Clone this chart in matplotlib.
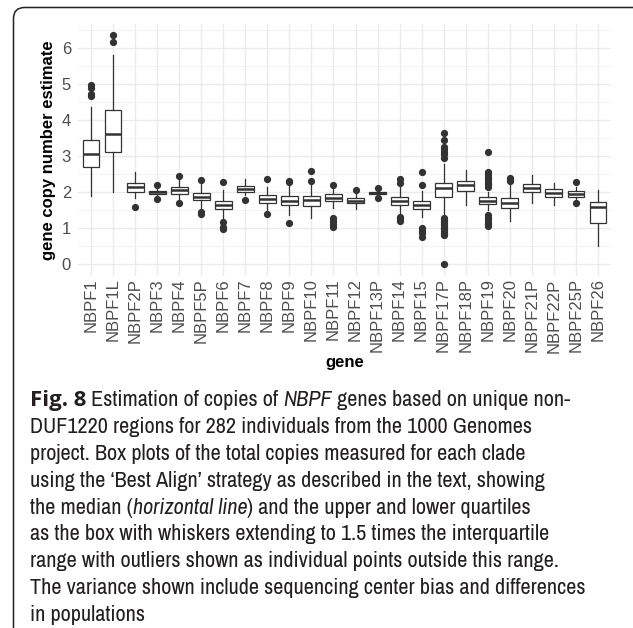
import numpy as np
import matplotlib
matplotlib.use("Agg")
import matplotlib.pyplot as plt
from matplotlib import font_manager
from matplotlib.patches import FancyBboxPatch

W, H = 633, 628

genes = ["NBPF1", "NBPF1L", "NBPF2P", "NBPF3", "NBPF4", "NBPF5P", "NBPF6", "NBPF7",
         "NBPF8", "NBPF9", "NBPF10", "NBPF11", "NBPF12", "NBPF13P", "NBPF14", "NBPF15",
         "NBPF17P", "NBPF18P", "NBPF19", "NBPF20", "NBPF21P", "NBPF22P", "NBPF25P", "NBPF26"]

q1 = [2.70, 3.12, 2.01, 1.95, 1.95, 1.77, 1.52, 2.00, 1.70, 1.63, 1.61, 1.75,
      1.68, 1.93, 1.64, 1.52, 1.85, 2.04, 1.67, 1.55, 1.99, 1.87, 1.87, 1.15]
medians = [3.04, 3.62, 2.13, 2.00, 2.06, 1.87, 1.65, 2.08, 1.81, 1.76, 1.78, 1.84,
           1.76, 1.96, 1.76, 1.63, 2.12, 2.18, 1.76, 1.69, 2.10, 1.98, 1.95, 1.58]
q3 = [3.43, 4.26, 2.24, 2.03, 2.15, 1.98, 1.76, 2.17, 1.91, 1.89, 1.89, 1.94,
      1.82, 1.99, 1.87, 1.76, 2.25, 2.31, 1.85, 1.83, 2.21, 2.07, 2.02, 1.72]
whislo = [1.90, 1.99, 1.83, 1.88, 1.80, 1.52, 1.27, 1.92, 1.50, 1.36, 1.27, 1.55,
          1.54, 1.88, 1.36, 1.30, 1.31, 1.64, 1.50, 1.19, 1.70, 1.64, 1.76, 0.49]
whishi = [4.35, 5.81, 2.54, 2.10, 2.33, 2.22, 2.06, 2.35, 2.15, 2.19, 2.19, 2.10,
          1.96, 2.03, 2.17, 2.04, 2.78, 2.61, 2.01, 2.24, 2.47, 2.26, 2.15, 2.06]
outliers = [
    [4.65, 4.72, 4.88, 4.97],
    [6.16, 6.34],
    [1.59],
    [2.19, 1.80],
    [2.43, 1.68],
    [2.32, 1.44, 1.38],
    [2.27, 1.17, 1.04, 0.96],
    [1.77],
    [2.36, 1.40],
    [2.27, 2.31, 1.14],
    [2.31, 2.58],
    [2.19, 1.27, 1.20, 1.12, 1.02],
    [2.06],
    [2.11, 1.84],
    [2.26, 2.35, 1.30, 1.25, 1.20],
    [2.20, 2.54, 1.01, 0.93, 0.85, 0.76],
    [2.93, 3.05, 3.12, 3.18, 3.26, 3.43, 3.63,
     1.28, 1.24, 1.20, 1.16, 1.12, 1.08, 1.04, 1.00, 0.96, 0.92, 0.87, 0.83, 0.80, 0.0],
    [],
    [2.15, 2.22, 2.28, 2.35, 2.42, 2.50, 2.56, 3.11, 1.36, 1.30, 1.24, 1.18, 1.12, 1.06],
    [2.29, 2.34, 2.39],
    [],
    [],
    [2.28, 1.68],
    [],
]

caption_lines = [
    [("Fig. 8", "bold"), (" Estimation of copies of ", "normal"), ("NBPF", "italic"),
     (" genes based on unique non-", "normal")],
    [("DUF1220 regions for 282 individuals from the 1000 Genomes", "normal")],
    [("project. Box plots of the total copies measured for each clade", "normal")],
    [("using the \u2018Best Align\u2019 strategy as described in the text, showing", "normal")],
    [("the median (", "normal"), ("horizontal line", "italic"),
     (") and the upper and lower quartiles", "normal")],
    [("as the box with whiskers extending to 1.5 times the interquartile", "normal")],
    [("range with outliers shown as individual points outside this range.", "normal")],
    [("The variance shown include sequencing center bias and differences", "normal")],
    [("in populations", "normal")],
]

plt.rcParams['font.family'] = ['Liberation Sans', 'DejaVu Sans']

fig = plt.figure(figsize=(W / 100, H / 100), dpi=100)
fig.patch.set_facecolor("white")

# panel placed in pixel terms
left, right, top, bottom = 78, 611, 24, 275.5
ax = fig.add_axes([left / W, 1 - bottom / H, (right - left) / W, (bottom - top) / H])

stats = []
for i in range(len(genes)):
    stats.append(dict(med=medians[i], q1=q1[i], q3=q3[i], whislo=whislo[i],
                      whishi=whishi[i], fliers=outliers[i], label=genes[i]))
pos = np.arange(1, len(genes) + 1)

dark = "#333333"
ax.bxp(stats, positions=pos, widths=0.75, patch_artist=True, showcaps=False,
       boxprops=dict(facecolor="white", edgecolor=dark, linewidth=0.9),
       whiskerprops=dict(color=dark, linewidth=0.9),
       medianprops=dict(color=dark, linewidth=1.8),
       flierprops=dict(marker="o", markersize=4.2, markerfacecolor=dark,
                       markeredgecolor=dark, linestyle="none"),
       zorder=3)

# ggplot-like expansion
allv = np.concatenate([whislo, whishi, np.concatenate([o for o in outliers if o])])
lo, hi = allv.min(), allv.max()
pad = 0.05 * (hi - lo)
ax.set_ylim(lo - pad, hi + pad)
ax.set_xlim(0.4, len(genes) + 0.6)

ax.set_yticks(np.arange(0, 7, 1))
ax.set_yticks(np.arange(0.5, 6.6, 1), minor=True)
ax.set_xticks(pos)
ax.set_xticklabels(genes, rotation=90, va="top", ha="center")
ax.grid(True, which="major", color="#EBEBEB", linewidth=1.0, zorder=0)
ax.grid(True, which="minor", axis="y", color="#F2F2F2", linewidth=0.6, zorder=0)
ax.set_axisbelow(True)
for s in ax.spines.values():
    s.set_visible(False)
ax.tick_params(axis="both", which="both", length=0, labelsize=12, labelcolor="#4D4D4D")
ax.tick_params(axis="x", pad=2)
ax.tick_params(axis="y", pad=5)

ax.set_ylabel("gene copy number estimate", fontsize=12, fontweight="bold", labelpad=4)
fig.text(344.5 / W, 1 - 363 / H, "gene", fontsize=12, fontweight="bold",
         ha="center", va="center")

# frame with rounded corners, running off the right and bottom edge
frame = FancyBboxPatch((13.5 / 100, -0.12), (W + 12 - 13.5) / 100, (H - 7.5) / 100 + 0.12,
                       boxstyle="round,pad=0,rounding_size=0.11",
                       transform=fig.dpi_scale_trans, fill=False,
                       edgecolor="#222222", linewidth=1.1, clip_on=False)
fig.add_artist(frame)

# caption font: a narrow face if one is installed
fonts = font_manager.fontManager.ttflist
names = {f.name for f in fonts}
stretch = "normal"
narrow = sorted(n for n in names if "Narrow" in n or "Condensed" in n)
if "Liberation Sans Narrow" in names:
    cap_font = "Liberation Sans Narrow"
elif narrow:
    cap_font = narrow[0]
elif any(f.name == "Noto Sans" and f.stretch in ("condensed", "semi-condensed") for f in fonts):
    cap_font = "Noto Sans"
    stretch = "semi-condensed"
else:
    cap_font = "Roboto"


def is_bold(w):
    if isinstance(w, str):
        return w in ("bold", "heavy", "black", "demibold", "semibold", "extra bold")
    return w >= 600


has_bold = any(f.name == cap_font and is_bold(f.weight) for f in fonts)
bold_font = cap_font if has_bold else "Open Sans"

renderer = fig.canvas.get_renderer()


def piece_props(kind):
    if kind == "bold":
        return dict(family=bold_font, fontweight="bold", fontstyle="normal",
                    fontstretch=stretch if has_bold else "normal")
    return dict(family=cap_font, fontweight="normal",
                fontstyle="italic" if kind == "italic" else "normal", fontstretch=stretch)


def text_width(s, size, kind):
    p = piece_props(kind)
    t = fig.text(0, 0, s + "|", fontsize=size, **p)
    w = t.get_window_extent(renderer).width
    t.remove()
    t = fig.text(0, 0, "|", fontsize=size, **p)
    w -= t.get_window_extent(renderer).width
    t.remove()
    return w


def line_width(line, size):
    return sum(text_width(s, size, kind) for s, kind in line)


widest = max(line_width(line, 10) for line in caption_lines)
cap_size = min(10 * 588 / widest, 16)

x0 = 30
y0 = 398
step = 26.9
for i, line in enumerate(caption_lines):
    x = x0
    y = y0 + step * i
    for s, kind in line:
        fig.text(x / W, 1 - y / H, s, fontsize=cap_size, color="#231F20",
                 ha="left", va="center_baseline", **piece_props(kind))
        x += text_width(s, cap_size, kind)

fig.savefig("out.png", dpi=100, facecolor="white")
